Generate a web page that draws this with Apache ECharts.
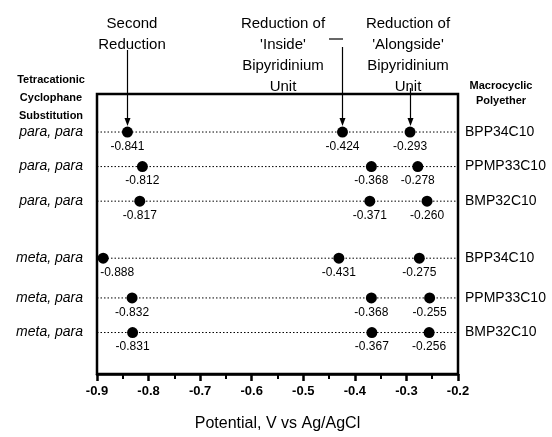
<!DOCTYPE html>
<html>
<head>
<meta charset="utf-8">
<script src="https://cdn.jsdelivr.net/npm/echarts@6/dist/echarts.min.js"></script>
<style>
  html, body { margin: 0; padding: 0; background: #fff; }
  #chart { width: 552px; height: 437px; }
</style>
</head>
<body>
<div id="chart"></div>
<script>
// rows, top to bottom
var cyclophanes = ['para, para', 'para, para', 'para, para', 'meta, para', 'meta, para', 'meta, para'];
var polyethers = ['BPP34C10', 'PPMP33C10', 'BMP32C10', 'BPP34C10', 'PPMP33C10', 'BMP32C10'];
var rowPos = [7, 6, 5, 3.35, 2.2, 1.2];

// reduction potentials, V vs Ag/AgCl
var secondReduction = [-0.841, -0.812, -0.817, -0.888, -0.832, -0.831];
var insideReduction = [-0.424, -0.368, -0.371, -0.431, -0.368, -0.367];
var alongsideReduction = [-0.293, -0.278, -0.260, -0.275, -0.255, -0.256];

var xMin = -0.9, xMax = -0.2, xStep = 0.1;

var FONT = 'Liberation Sans, Arial, sans-serif';

var chart = echarts.init(document.getElementById('chart'));

function pointSeries(name, vals) {
  return {
    name: name,
    type: 'scatter',
    symbol: 'circle',
    symbolSize: 11,
    itemStyle: { color: '#000', opacity: 1 },
    z: 5,
    label: {
      show: true,
      position: 'bottom',
      distance: 3,
      color: '#000',
      fontFamily: FONT,
      fontSize: 12,
      formatter: function (p) { return p.value[0].toFixed(3); }
    },
    data: vals.map(function (v, i) {
      var d = { value: [v, rowPos[i]] };
      // leftmost label is pushed off the axis line in the original
      if (v - xMin < 0.02) d.label = { offset: [14, 0] };
      return d;
    })
  };
}

// dotted guide line for each row, with the row names at both ends
var rowLines = rowPos.map(function (y, i) {
  return {
    type: 'line',
    symbol: 'circle',
    symbolSize: 0,
    showSymbol: true,
    silent: true,
    lineStyle: { color: '#000', width: 1, type: [1.5, 2] },
    z: 2,
    label: { show: true, color: '#000', fontFamily: FONT, fontSize: 14 },
    data: [
      { value: [xMin, y], label: { position: 'left', distance: 14, formatter: cyclophanes[i], fontStyle: 'italic' } },
      { value: [xMax, y], label: { position: 'right', distance: 7, formatter: polyethers[i] } }
    ]
  };
});

chart.setOption({
  animation: false,
  grid: {
    left: 97, right: 94, top: 94, bottom: 60,
    show: true, borderColor: '#000', borderWidth: 2.5
  },
  xAxis: {
    type: 'value',
    min: xMin, max: xMax, interval: xStep,
    name: 'Potential, V vs Ag/AgCl',
    nameLocation: 'middle',
    nameGap: 42,
    nameTextStyle: { fontFamily: FONT, fontSize: 16, color: '#000' },
    axisLine: { show: true, lineStyle: { color: '#000', width: 2.5 } },
    axisTick: { show: true, inside: false, length: 7, lineStyle: { color: '#000', width: 2.5 } },
    minorTick: { show: true, splitNumber: 2, length: 5, lineStyle: { color: '#000', width: 2 } },
    splitLine: { show: false },
    axisLabel: {
      color: '#000', fontFamily: FONT, fontSize: 13, fontWeight: 'bold', margin: 11,
      formatter: function (v) { return v.toFixed(1); }
    }
  },
  yAxis: { type: 'value', min: 0, max: 8.1, show: false },
  series: rowLines.concat([
    pointSeries('Second Reduction', secondReduction),
    pointSeries('Inside', insideReduction),
    pointSeries('Alongside', alongsideReduction)
  ])
});

// arrows from the column headings down to the first row
function arrow(xVal, topY) {
  var p = chart.convertToPixel({ gridIndex: 0 }, [xVal, rowPos[0]]);
  var x = Math.round(p[0]) + 0.5, endY = p[1] - 6;
  return [
    { type: 'line', shape: { x1: x, y1: topY, x2: x, y2: endY - 6 }, style: { stroke: '#000', lineWidth: 1.2 }, z: 10 },
    { type: 'polygon', shape: { points: [[x - 3, endY - 8], [x + 3, endY - 8], [x, endY]] }, style: { fill: '#000' }, z: 10 }
  ];
}

function heading(text, x, y, opts) {
  opts = opts || {};
  return {
    type: 'text', x: x, y: y, z: 10,
    style: {
      text: text, fill: '#000', align: 'center', verticalAlign: 'top',
      font: (opts.bold ? 'bold ' : '') + (opts.size || 15) + 'px ' + FONT,
      lineHeight: opts.lh || 21
    }
  };
}

var gfx = []
  .concat(arrow(secondReduction[0], 50))
  .concat(arrow(insideReduction[0], 47))
  .concat(arrow(alongsideReduction[0], 88))
  .concat([
    heading('Second\nReduction', 132, 13),
    heading("Reduction of\n'Inside'\nBipyridinium\nUnit", 283, 13),
    heading("Reduction of\n'Alongside'\nBipyridinium\nUnit", 408, 13),
    heading('Tetracationic\nCyclophane\nSubstitution', 51, 71, { bold: true, size: 11, lh: 18 }),
    heading('Macrocyclic\nPolyether', 501, 78, { bold: true, size: 11, lh: 15 }),
    { type: 'line', shape: { x1: 329, y1: 39, x2: 343, y2: 39 }, style: { stroke: '#000', lineWidth: 1.2 }, z: 10 }
  ]);

chart.setOption({ graphic: gfx });
</script>
</body>
</html>
